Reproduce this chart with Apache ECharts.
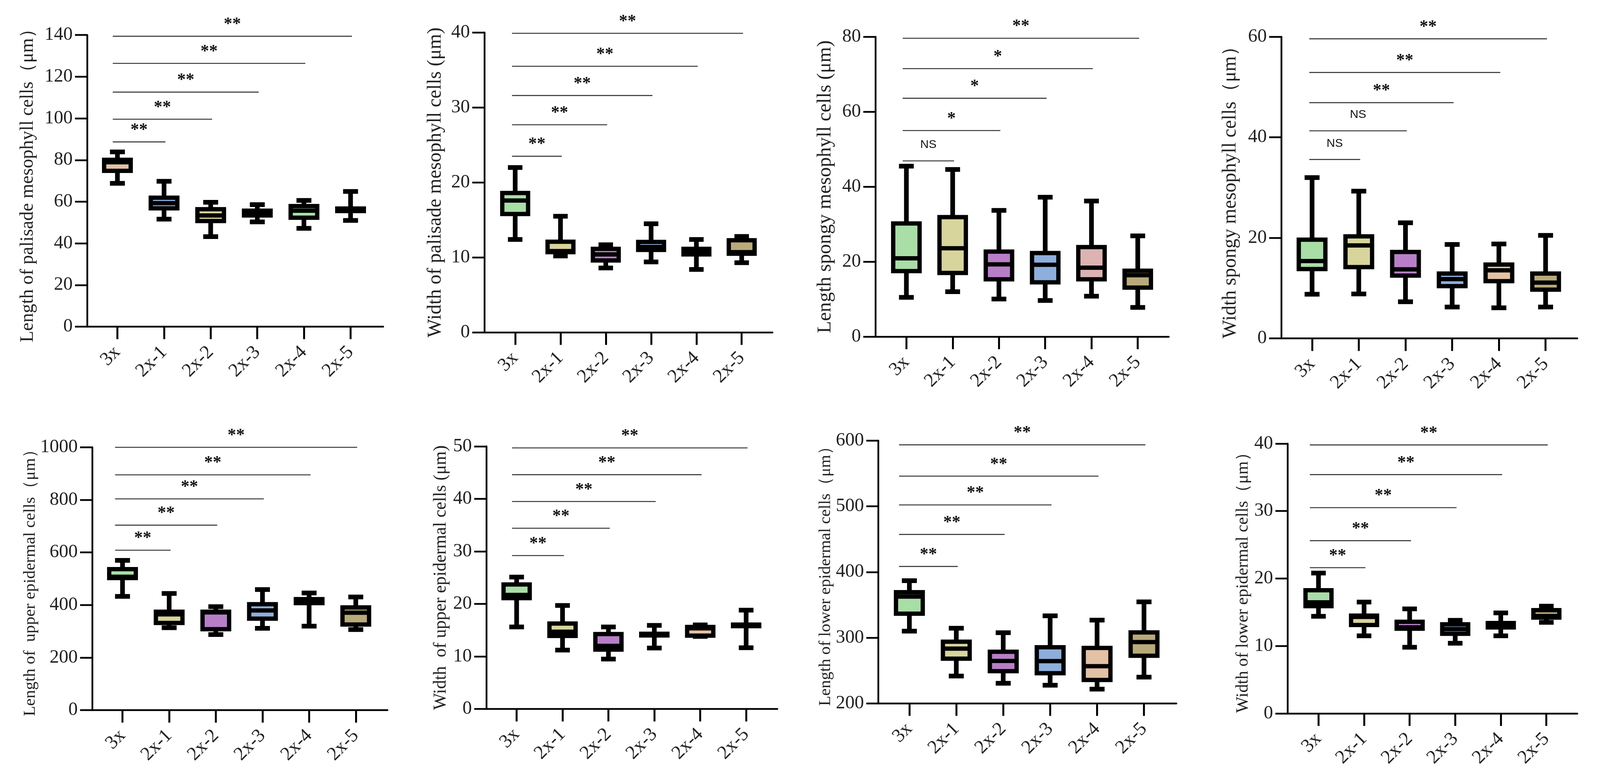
<!DOCTYPE html>
<html><head><meta charset="utf-8">
<script src="https://cdn.jsdelivr.net/npm/echarts@6/dist/echarts.min.js"></script>
<style>html,body{margin:0;padding:0;background:#fff}#c{width:4102px;height:2000px}</style>
</head><body><div id="c"></div><script>
// Groups on the x axis
const groups = ['3x', '2x-1', '2x-2', '2x-3', '2x-4', '2x-5'];

// Box statistics per group: [min, Q1, median, Q3, max]
const palisadeLength = [[68.8,74.8,78.9,80.1,83.9],[51.6,56.8,59.3,61.9,69.8],[43.2,50.7,53.4,56.4,59.7],[50.3,53.4,54.6,55.7,58.6],[47.2,52.3,55.7,57.9,60.6],[51.0,55.5,56.1,56.7,64.9]];
const palisadeWidth = [[12.4,15.8,17.6,18.6,22.0],[10.2,10.7,10.85,12.1,15.5],[8.6,9.6,10.4,11.15,11.7],[9.4,11.0,11.4,12.07,14.5],[8.4,10.4,10.8,11.15,12.4],[9.3,10.5,10.7,12.3,12.8]];
const spongyLength = [[10.5,17.5,20.9,30.2,45.5],[12.0,17.0,23.6,31.9,44.6],[10.05,15.3,19.3,22.7,33.7],[9.65,14.5,19.2,22.3,37.2],[10.8,15.3,18.4,23.9,36.2],[7.8,13.1,16.4,17.6,26.9]];
const spongyWidth = [[8.8,13.8,15.4,19.65,32.0],[8.85,14.2,18.5,20.3,29.3],[7.3,12.5,13.75,17.2,23.0],[6.25,10.4,11.8,12.9,18.7],[6.1,11.4,13.55,14.7,18.8],[6.25,9.7,11.1,12.9,20.5]];
const upperLength = [[433,502.5,507.5,536.6,570],[313.8,332,364.4,374.7,444],[287.6,308,372,374.7,393.8],[311.4,348.2,379.5,403.2,459],[319.6,407.2,414.8,422.4,446],[306.6,326,371,391,430.5]];
const upperWidth = [[15.6,21.1,21.7,23.7,25.1],[11.2,13.9,14.7,16.26,19.7],[9.5,11.3,12.0,14.25,15.6],[11.6,14.0,14.15,14.3,15.9],[13.8,13.95,15.35,15.6,16.0],[11.65,15.75,15.9,16.05,18.8]];
const lowerLength = [[309.9,336.6,362.5,369.3,386.8],[241.7,268,283.4,293.9,314.4],[230.7,249,264.6,278.6,307.6],[227.6,245.9,264.4,285.5,333.3],[221.7,235.7,256.6,284.4,326.7],[240,272.6,293.4,308,354.5]];
const lowerWidth = [[14.4,15.9,16.46,18.26,20.8],[11.5,13.1,14.3,14.5,16.5],[9.8,12.55,12.76,13.59,15.5],[10.4,11.8,12.5,13.2,13.8],[11.5,12.75,13.1,13.4,14.9],[13.5,14.2,14.44,15.3,15.9]];

// Significance bars (3x vs each group): bar heights and labels
const palisadeLengthSigY = [88.7, 99.6, 112.6, 126.4, 139.4];
const palisadeLengthSig = ['**','**','**','**','**'];
const palisadeWidthSigY = [23.5, 27.7, 31.6, 35.5, 39.9];
const palisadeWidthSig = ['**','**','**','**','**'];
const spongyLengthSigY = [46.9, 55.0, 63.6, 71.5, 79.6];
const spongyLengthSig = ['NS','*','*','*','**'];
const spongyWidthSigY = [35.6, 41.3, 46.9, 52.9, 59.6];
const spongyWidthSig = ['NS','NS','**','**','**'];
const upperLengthSigY = [608.6, 703.8, 803.8, 895.2, 1000];
const upperLengthSig = ['**','**','**','**','**'];
const upperWidthSigY = [29.2, 34.4, 39.5, 44.6, 49.7];
const upperWidthSig = ['**','**','**','**','**'];
const lowerLengthSigY = [408.4, 457.1, 502.1, 545.9, 593.5];
const lowerLengthSig = ['**','**','**','**','**'];
const lowerWidthSigY = [21.6, 25.6, 30.5, 35.4, 39.8];
const lowerWidthSig = ['**','**','**','**','**'];

// Axis titles
const titles = [
  'Length of palisade mesophyll cells\uFF08\u03BCm\uFF09',
  'Width of palisade mesophyll cells (\u03BCm)',
  'Length spongy mesophyll cells (\u03BCm)',
  'Width spongy mesophyll cells\uFF08\u03BCm\uFF09',
  'Length of  upper epidermal cells\uFF08\u03BCm\uFF09',
  'Width  of upper epidermal cells (\u03BCm)',
  'Length of lower epidermal cells\uFF08\u03BCm\uFF09',
  'Width of lower epidermal cells\uFF08\u03BCm\uFF09'
];
// y axis ranges: [min, max, step]
const yRanges = [[0,140,20],[0,40,10],[0,80,20],[0,60,20],[0,1000,200],[0,50,10],[200,600,100],[0,40,10]];

// ---------- styling / layout ----------
const GREEN='#a9dea6', YEL='#d8d59c', PUR='#b87fc8', BLU='#8eaedc', PEA='#e3c1a5', PINK='#dcb3b1', KHA='#b8aa7a';
const panels = [
  {data:palisadeLength, sigY:palisadeLengthSigY, sig:palisadeLengthSig, grid:{left:223,top:89.7,width:758,height:746.8}, xr:[-0.65,5.70], gap:128, tl:795, s0:-0.1, fills:[PEA,BLU,YEL,GREEN,GREEN,KHA]},
  {data:palisadeWidth, sigY:palisadeWidthSigY, sig:palisadeWidthSig, grid:{left:1240,top:83.3,width:737.6,height:768}, xr:[-0.68,5.68], gap:100, tl:792, s0:-0.07, fills:[GREEN,YEL,PUR,BLU,PEA,KHA]},
  {data:spongyLength, sigY:spongyLengthSigY, sig:spongyLengthSig, grid:{left:2241,top:94.2,width:751,height:768}, xr:[-0.67,5.67], gap:103, tl:747, s0:-0.08, fills:[GREEN,YEL,PUR,BLU,PINK,KHA]},
  {data:spongyWidth, sigY:spongyWidthSigY, sig:spongyWidthSig, grid:{left:3280,top:94.2,width:758,height:772.5}, xr:[-0.66,5.68], gap:105, tl:741, s0:-0.06, fills:[GREEN,YEL,PUR,BLU,PEA,KHA]},
  {data:upperLength, sigY:upperLengthSigY, sig:upperLengthSig, grid:{left:236,top:1145.5,width:756,height:673.1}, xr:[-0.65,5.68], gap:135, tl:676, s0:-0.16, fills:[GREEN,YEL,PUR,BLU,PEA,KHA]},
  {data:upperWidth, sigY:upperWidthSigY, sig:upperWidthSig, grid:{left:1245,top:1143,width:745,height:672.4}, xr:[-0.66,5.68], gap:93, tl:676, s0:-0.1, fills:[GREEN,YEL,PUR,BLU,PEA,KHA]},
  {data:lowerLength, sigY:lowerLengthSigY, sig:lowerLengthSig, grid:{left:2248.7,top:1128.2,width:762.8,height:673.1}, xr:[-0.66,5.69], gap:110, tl:657, s0:-0.22, fills:[GREEN,YEL,PUR,BLU,PEA,KHA]},
  {data:lowerWidth, sigY:lowerWidthSigY, sig:lowerWidthSig, grid:{left:3296,top:1135.9,width:742,height:691}, xr:[-0.68,5.68], gap:92, tl:660, s0:-0.19, fills:[GREEN,YEL,PUR,BLU,PEA,KHA]}
];

const SERIF = '"Liberation Serif","Times New Roman",serif';
const BOX_W = 0.57, CAP_W = 0.32, BORDER = 11, WHISK = 12, CAP = 12;
const TXT = '#222222';

// font size so that the title's ink length matches the target length
const mctx = document.createElement('canvas').getContext('2d');
function fitSize(text, target) {
  mctx.font = '100px ' + SERIF;
  const m = mctx.measureText(text);
  let w = (m.actualBoundingBoxLeft || 0) + (m.actualBoundingBoxRight || 0);
  if (!w || w < 10) w = m.width;
  const s = 100 * target / w;
  return Math.max(38, Math.min(54, s));
}

function boxRenderer(fills) {
  return function (params, api) {
    const i = api.value(0);
    const pMin = api.coord([i, api.value(1)]);
    const pQ1 = api.coord([i, api.value(2)]);
    const pMed = api.coord([i, api.value(3)]);
    const pQ3 = api.coord([i, api.value(4)]);
    const pMax = api.coord([i, api.value(5)]);
    const bw = api.size([BOX_W, 0])[0];
    const cw = api.size([CAP_W, 0])[0];
    const x = pQ1[0];
    const blk = {stroke:'#000', lineWidth:WHISK};
    return {type:'group', children:[
      {type:'line', shape:{x1:x,y1:pQ3[1],x2:x,y2:pMax[1]}, style:blk},
      {type:'line', shape:{x1:x,y1:pQ1[1],x2:x,y2:pMin[1]}, style:blk},
      {type:'line', shape:{x1:x-cw/2,y1:pMax[1],x2:x+cw/2,y2:pMax[1]}, style:{stroke:'#000',lineWidth:CAP}},
      {type:'line', shape:{x1:x-cw/2,y1:pMin[1],x2:x+cw/2,y2:pMin[1]}, style:{stroke:'#000',lineWidth:CAP}},
      {type:'rect', shape:{x:x-bw/2,y:pQ3[1],width:bw,height:pQ1[1]-pQ3[1]}, style:{fill:fills[i],stroke:'#000',lineWidth:BORDER,lineJoin:'miter'}},
      {type:'line', shape:{x1:x-bw/2,y1:pMed[1],x2:x+bw/2,y2:pMed[1]}, style:{stroke:'#000',lineWidth:BORDER}}
    ]};
  };
}

function sigRenderer(labels) {
  return function (params, api) {
    const a = api.coord([api.value(0), api.value(2)]);
    const b = api.coord([api.value(1), api.value(2)]);
    const txt = labels[params.dataIndex];
    const isNS = txt === 'NS';
    return {type:'group', children:[
      {type:'line', shape:{x1:a[0],y1:a[1],x2:b[0],y2:b[1]}, style:{stroke:'#3a3a3a',lineWidth:2.6}},
      {type:'text', x:(a[0]+b[0])/2, y:a[1] - (isNS ? 41 : 30), style:{
        text: txt, fill:'#111', align:'center', verticalAlign:'middle',
        font: isNS ? '30px "Liberation Sans",Arial,sans-serif' : 'bold 44px ' + SERIF }}
    ]};
  };
}

const grids = [], xAxes = [], yAxes = [], series = [];
panels.forEach((p, k) => {
  grids.push(Object.assign({containLabel:false}, p.grid));
  xAxes.push({
    gridIndex:k, type:'value', min:p.xr[0], max:p.xr[1],
    axisLine:{show:true, onZero:false, lineStyle:{color:'#000', width:4.5}},
    axisTick:{show:true, customValues:[0,1,2,3,4,5], length:32, lineStyle:{color:'#000', width:5}},
    axisLabel:{show:true, customValues:[0,1,2,3,4,5], formatter:(v)=>groups[Math.round(v)],
      rotate:45, margin:58, fontSize:49, fontFamily:SERIF, color:TXT},
    splitLine:{show:false}
  });
  const r = yRanges[k];
  yAxes.push({
    gridIndex:k, type:'value', min:r[0], max:r[1], interval:r[2],
    axisLine:{show:true, onZero:false, lineStyle:{color:'#000', width:4.5}},
    axisTick:{show:true, length:31, lineStyle:{color:'#000', width:4.5}},
    axisLabel:{margin:37, fontSize:48, fontFamily:SERIF, color:TXT, formatter:(v)=>String(v)},
    splitLine:{show:false},
    name: titles[k], nameLocation:'middle', nameGap:p.gap,
    nameTextStyle:{fontSize:fitSize(titles[k], p.tl), fontFamily:SERIF, color:TXT}
  });
  series.push({
    type:'custom', xAxisIndex:k, yAxisIndex:k, clip:false,
    renderItem: boxRenderer(p.fills),
    encode:{x:0, y:[1,2,3,4,5]},
    data: p.data.map((d, i) => [i].concat(d))
  });
  series.push({
    type:'custom', xAxisIndex:k, yAxisIndex:k, clip:false,
    renderItem: sigRenderer(p.sig),
    encode:{x:[0,1], y:2},
    data: p.sigY.map((y, j) => [p.s0, j + 1.03, y])
  });
});

const chart = echarts.init(document.getElementById('c'), null, {renderer:'canvas'});
chart.setOption({
  backgroundColor:'#ffffff',
  animation:false,
  grid:grids, xAxis:xAxes, yAxis:yAxes, series:series
});
</script></body></html>
